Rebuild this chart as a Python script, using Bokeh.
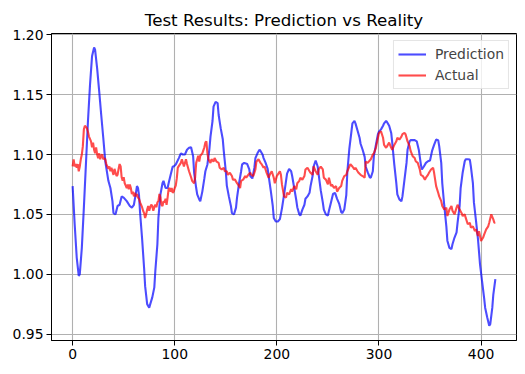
from bokeh.plotting import figure
from bokeh.models import Range1d, FixedTicker
from bokeh.embed import file_html
from bokeh.resources import INLINE

title_text = "Test Results: Prediction vs Reality"
series_names = ["Prediction", "Actual"]

x_ticks = [0, 100, 200, 300, 400]
y_ticks = [0.95, 1.00, 1.05, 1.10, 1.15, 1.20]
y_tick_labels = ["0.95", "1.00", "1.05", "1.10", "1.15", "1.20"]

# Prediction (blue)
pred_x = [0, 2, 4, 6, 7, 9, 11, 13, 15, 17, 19, 21, 22, 24, 26, 28, 30, 32, 35, 37,
          39, 40, 42, 44, 46, 48, 50, 53, 56, 58, 60, 62, 63, 64, 65, 66, 68, 70, 71, 73,
          75, 76, 78, 80, 81, 83, 84, 86, 88, 89, 91, 93, 94, 96, 98, 99, 101, 104, 106, 108,
          110, 112, 114, 116, 118, 119, 121, 122, 124, 125, 127, 129, 130, 132, 134, 135, 137, 138, 140, 142,
          143, 145, 147, 148, 150, 151, 153, 155, 156, 158, 160, 161, 163, 165, 166, 168, 171, 173, 174, 176,
          178, 179, 181, 183, 184, 186, 187, 189, 191, 192, 194, 196, 197, 199, 201, 203, 205, 207, 209, 210,
          212, 214, 215, 217, 219, 220, 222, 223, 225, 227, 228, 230, 232, 233, 235, 236, 238, 240, 241, 243,
          245, 246, 248, 250, 251, 253, 255, 257, 259, 261, 263, 264, 266, 268, 269, 271, 273, 274, 276, 277,
          279, 281, 282, 284, 286, 287, 289, 291, 292, 294, 295, 297, 299, 300, 302, 304, 305, 307, 308, 310,
          312, 313, 315, 317, 318, 320, 322, 323, 325, 327, 328, 330, 331, 335, 337, 339, 341, 342, 344, 346,
          348, 350, 352, 354, 356, 358, 359, 361, 362, 364, 366, 367, 369, 371, 372, 374, 376, 377, 379, 380,
          382, 384, 385, 387, 389, 390, 392, 393, 395, 397, 399, 401, 403, 404, 406, 408, 409, 411, 412, 414]
pred_y = [1.0736, 1.0417, 1.0139, 0.9986, 1.000, 1.022, 1.0556, 1.0917, 1.1278, 1.158, 1.182, 1.1894, 1.1875, 1.172, 1.153, 1.133, 1.114, 1.094, 1.078, 1.072,
          1.061, 1.051, 1.050, 1.057, 1.058, 1.065, 1.064, 1.061, 1.057, 1.0556, 1.058, 1.068, 1.0736, 1.072, 1.066, 1.052, 1.030, 1.005, 0.990, 0.975,
          0.972, 0.975, 0.9806, 0.989, 1.003, 1.025, 1.047, 1.0667, 1.076, 1.078, 1.072, 1.072, 1.076, 1.083, 1.090, 1.090, 1.0917, 1.097, 1.101, 1.100,
          1.100, 1.104, 1.1056, 1.106, 1.0986, 1.0847, 1.072, 1.0667, 1.0625, 1.061, 1.069, 1.080, 1.086, 1.0917, 1.105, 1.115, 1.128, 1.140, 1.144, 1.143,
          1.133, 1.122, 1.113, 1.103, 1.086, 1.074, 1.065, 1.057, 1.051, 1.050, 1.0556, 1.064, 1.076, 1.086, 1.0917, 1.093, 1.092, 1.0875, 1.082, 1.080,
          1.089, 1.097, 1.101, 1.104, 1.103, 1.100, 1.097, 1.093, 1.088, 1.082, 1.070, 1.057, 1.047, 1.044, 1.044, 1.046, 1.055, 1.066, 1.078, 1.084,
          1.088, 1.086, 1.082, 1.072, 1.062, 1.056, 1.050, 1.049, 1.054, 1.058, 1.063, 1.065, 1.068, 1.0736, 1.082, 1.090, 1.095, 1.090, 1.083, 1.070,
          1.060, 1.054, 1.050, 1.049, 1.053, 1.060, 1.067, 1.068, 1.063, 1.059, 1.052, 1.051, 1.054, 1.066, 1.085, 1.105, 1.119, 1.126, 1.128, 1.126,
          1.120, 1.114, 1.109, 1.104, 1.098, 1.090, 1.085, 1.081, 1.0806, 1.086, 1.0986, 1.108, 1.117, 1.119, 1.121, 1.124, 1.126, 1.128, 1.127, 1.124,
          1.118, 1.110, 1.0917, 1.076, 1.0667, 1.0625, 1.061, 1.065, 1.079, 1.093, 1.104, 1.111, 1.112, 1.112, 1.111, 1.104, 1.092, 1.0875, 1.090, 1.093,
          1.0944, 1.095, 1.103, 1.108, 1.1125, 1.112, 1.107, 1.093, 1.076, 1.057, 1.040, 1.028, 1.022, 1.021, 1.025, 1.0306, 1.035, 1.043, 1.057, 1.072,
          1.085, 1.0944, 1.096, 1.096, 1.0958, 1.090, 1.076, 1.060, 1.045, 1.029, 1.008, 0.994, 0.980, 0.972, 0.964, 0.957, 0.9583, 0.972, 0.983, 0.9958]

# Actual (red)
act_x = [0, 1, 2, 3, 4, 5, 6, 7, 8, 9, 10, 11, 12, 14, 15, 16, 17, 18, 19, 20,
         21, 22, 23, 24, 25, 26, 27, 28, 29, 30, 31, 32, 33, 34, 35, 36, 37, 38, 39, 40,
         41, 42, 43, 44, 45, 46, 47, 48, 49, 50, 51, 52, 53, 54, 55, 56, 57, 58, 59, 60,
         61, 62, 63, 64, 65, 66, 67, 68, 69, 70, 71, 72, 73, 74, 75, 76, 77, 78, 79, 80,
         81, 82, 83, 84, 85, 86, 87, 88, 89, 90, 91, 92, 93, 94, 95, 96, 97, 98, 99, 100,
         101, 102, 103, 106, 107, 109, 111, 112, 114, 116, 117, 119, 120, 121, 123, 124, 125, 127, 129, 130,
         131, 132, 133, 135, 136, 138, 139, 141, 143, 144, 146, 148, 149, 151, 152, 154, 156, 157, 159, 161,
         162, 164, 165, 167, 169, 170, 172, 174, 175, 177, 179, 180, 182, 184, 185, 187, 188, 190, 192, 193,
         195, 197, 198, 200, 202, 203, 204, 205, 207, 209, 210, 212, 214, 215, 217, 219, 220, 222, 223, 225,
         227, 228, 230, 232, 233, 235, 236, 238, 240, 241, 243, 245, 246, 248, 250, 251, 253, 254, 256, 258,
         259, 261, 263, 264, 266, 268, 269, 271, 272, 274, 276, 277, 279, 280, 282, 284, 286, 287, 289, 290,
         292, 294, 295, 297, 299, 300, 302, 304, 305, 307, 308, 310, 312, 313, 315, 317, 318, 320, 322, 323,
         325, 326, 328, 330, 331, 333, 335, 336, 338, 340, 341, 343, 345, 346, 348, 349, 351, 353, 354, 356,
         358, 359, 361, 362, 364, 366, 367, 369, 371, 372, 374, 376, 377, 379, 381, 382, 384, 385, 387, 389,
         390, 392, 394, 395, 397, 398, 400, 402, 403, 405, 407, 408, 410, 412, 413, 414]
act_y = [1.090, 1.096, 1.090, 1.092, 1.089, 1.092, 1.086, 1.090, 1.096, 1.100, 1.107, 1.121, 1.124, 1.122, 1.119, 1.115, 1.113, 1.111, 1.106, 1.110,
         1.104, 1.101, 1.106, 1.100, 1.097, 1.101, 1.096, 1.099, 1.100, 1.096, 1.097, 1.096, 1.092, 1.090, 1.088, 1.090, 1.086, 1.089, 1.086, 1.083,
         1.088, 1.085, 1.082, 1.083, 1.088, 1.092, 1.090, 1.081, 1.078, 1.081, 1.076, 1.074, 1.072, 1.075, 1.071, 1.075, 1.072, 1.067, 1.069, 1.065,
         1.068, 1.065, 1.067, 1.064, 1.063, 1.060, 1.058, 1.056, 1.053, 1.051, 1.047, 1.050, 1.054, 1.057, 1.053, 1.056, 1.058, 1.057, 1.053, 1.056,
         1.058, 1.056, 1.060, 1.061, 1.067, 1.064, 1.058, 1.057, 1.061, 1.060, 1.063, 1.058, 1.064, 1.071, 1.072, 1.069, 1.072, 1.068, 1.069, 1.072,
         1.074, 1.080, 1.089, 1.093, 1.096, 1.090, 1.096, 1.092, 1.086, 1.081, 1.078, 1.076, 1.081, 1.093, 1.099, 1.094, 1.099, 1.101, 1.106, 1.110,
         1.111, 1.101, 1.096, 1.093, 1.096, 1.094, 1.097, 1.094, 1.093, 1.089, 1.0875, 1.089, 1.086, 1.086, 1.083, 1.0847, 1.082, 1.079, 1.079, 1.076,
         1.075, 1.072, 1.078, 1.079, 1.082, 1.0806, 1.083, 1.0847, 1.083, 1.082, 1.0875, 1.094, 1.096, 1.093, 1.092, 1.089, 1.090, 1.0847, 1.0806, 1.083,
         1.086, 1.0806, 1.076, 1.082, 1.0847, 1.086, 1.083, 1.075, 1.065, 1.064, 1.068, 1.0667, 1.071, 1.069, 1.0736, 1.071, 1.076, 1.078, 1.0806, 1.079,
         1.082, 1.0875, 1.089, 1.086, 1.0847, 1.083, 1.090, 1.086, 1.083, 1.0875, 1.090, 1.0875, 1.0806, 1.079, 1.075, 1.0806, 1.0736, 1.075, 1.072, 1.0736,
         1.069, 1.072, 1.0736, 1.078, 1.082, 1.083, 1.086, 1.090, 1.092, 1.090, 1.0875, 1.089, 1.086, 1.0847, 1.083, 1.082, 1.0806, 1.094, 1.093, 1.094,
         1.096, 1.100, 1.101, 1.1056, 1.114, 1.118, 1.1194, 1.114, 1.108, 1.1056, 1.107, 1.110, 1.1056, 1.104, 1.108, 1.111, 1.114, 1.1125, 1.115, 1.117,
         1.118, 1.117, 1.111, 1.107, 1.103, 1.0986, 1.097, 1.0944, 1.093, 1.0875, 1.083, 1.082, 1.079, 1.0806, 1.083, 1.0847, 1.0875, 1.089, 1.0847, 1.0736,
         1.068, 1.065, 1.061, 1.057, 1.054, 1.0556, 1.0486, 1.054, 1.057, 1.053, 1.050, 1.0556, 1.058, 1.054, 1.051, 1.0486, 1.050, 1.047, 1.0417, 1.043,
         1.039, 1.040, 1.036, 1.0375, 1.032, 1.036, 1.0278, 1.0306, 1.033, 1.0375, 1.040, 1.043, 1.050, 1.0458, 1.043, 1.043]

p = figure(width=522, height=372, output_backend="svg", toolbar_location=None,
           x_range=Range1d(-20.7, 434.7), y_range=Range1d(0.9446, 1.2011),
           min_border_left=51, min_border_right=6, min_border_top=33, min_border_bottom=32,
           title=title_text)
p.background_fill_color = "white"
p.border_fill_color = "white"
p.outline_line_color = "black"
p.outline_line_width = 1

p.title.text_font = "DejaVu Sans"
p.title.text_font_size = "16.7px"
p.title.text_font_style = "normal"
p.title.text_color = "black"
p.title.align = "center"
p.title.standoff = 8

p.line(pred_x, pred_y, line_color="#0000ff", line_alpha=0.7, line_width=2.1, legend_label=series_names[0])
p.line(act_x, act_y, line_color="#ff0000", line_alpha=0.7, line_width=2.1, legend_label=series_names[1])

p.xaxis.ticker = FixedTicker(ticks=x_ticks)
p.yaxis.ticker = FixedTicker(ticks=y_ticks)
p.yaxis.major_label_overrides = {t: l for t, l in zip(y_ticks, y_tick_labels)}

for ax in [p.xaxis[0], p.yaxis[0]]:
    ax.axis_line_color = "black"
    ax.axis_line_width = 1
    ax.major_tick_out = 5
    ax.major_tick_in = 0
    ax.minor_tick_out = 0
    ax.minor_tick_in = 0
    ax.major_tick_line_color = "black"
    ax.major_tick_line_width = 1
    ax.major_label_text_font = "DejaVu Sans"
    ax.major_label_text_font_size = "13.9px"
    ax.major_label_text_color = "black"
    ax.major_label_standoff = 3

for g in [p.xgrid[0], p.ygrid[0]]:
    g.grid_line_color = "#b0b0b0"
    g.grid_line_width = 1.1

p.legend.location = "top_right"
p.legend.margin = 7
p.legend.padding = 4
p.legend.spacing = 3
p.legend.glyph_width = 28
p.legend.glyph_height = 18
p.legend.label_height = 18
p.legend.label_standoff = 9
p.legend.label_text_font = "DejaVu Sans"
p.legend.label_text_font_size = "13.9px"
p.legend.border_line_color = "#cccccc"
p.legend.border_line_width = 1
p.legend.background_fill_alpha = 0.8

open("out.html", "w").write(file_html(p, INLINE))
